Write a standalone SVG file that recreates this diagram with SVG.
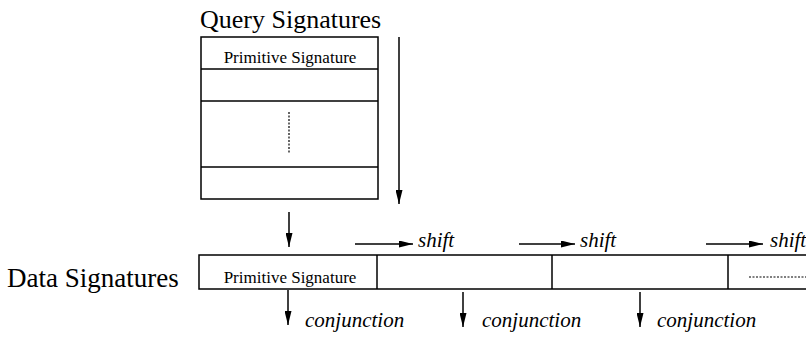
<svg xmlns="http://www.w3.org/2000/svg" width="806" height="338" viewBox="0 0 806 338">
  <style>
    .box { fill: none; stroke: #000; stroke-width: 1.5; }
    .ln { stroke: #000; stroke-width: 1.5; fill: none; }
    .dash { stroke: #000; stroke-width: 1.2; stroke-dasharray: 2 1.5; fill: none; }
    text { font-family: "Liberation Serif", "DejaVu Serif", "Times New Roman", serif; fill: #000; }
    .title { font-size: 26px; }
    .cell { font-size: 17px; text-anchor: middle; }
    .lbl { font-size: 21px; font-style: italic; }
  </style>
  <defs>
    <marker id="arr" viewBox="0 0 14 7" refX="14" refY="3.5" markerWidth="14" markerHeight="7" markerUnits="userSpaceOnUse" orient="auto">
      <path d="M0,0 L14,3.5 L0,7 Z" fill="#000"/>
    </marker>
  </defs>

  <!-- query signature stack -->
  <g id="query">
    <text class="title" x="200" y="28">Query Signatures</text>
    <rect class="box" x="201" y="37" width="177" height="162"/>
    <line class="ln" x1="201" y1="69" x2="378" y2="69"/>
    <line class="ln" x1="201" y1="101" x2="378" y2="101"/>
    <line class="ln" x1="201" y1="167" x2="378" y2="167"/>
    <text class="cell" x="290" y="63">Primitive Signature</text>
    <line class="dash" x1="289" y1="112" x2="289" y2="154"/>
  </g>

  <!-- data signature row -->
  <g id="data">
    <text class="title" x="7" y="287" style="font-size:27px">Data Signatures</text>
    <rect class="box" x="199" y="255" width="620" height="34"/>
    <line class="ln" x1="377" y1="255" x2="377" y2="289"/>
    <line class="ln" x1="552" y1="255" x2="552" y2="289"/>
    <line class="ln" x1="728" y1="255" x2="728" y2="289"/>
    <text class="cell" x="290" y="283">Primitive Signature</text>
    <line class="dash" x1="749" y1="277" x2="806" y2="277"/>
  </g>

  <!-- labels -->
  <g id="labels">
    <text class="lbl" x="418" y="247">shift</text>
    <text class="lbl" x="580" y="247">shift</text>
    <text class="lbl" x="770" y="247">shift</text>
    <text class="lbl" x="305" y="327">conjunction</text>
    <text class="lbl" x="482" y="327">conjunction</text>
    <text class="lbl" x="657" y="327">conjunction</text>
  </g>

  <!-- connectors -->
  <g id="connectors">
    <line class="ln" x1="399" y1="37" x2="399" y2="204" marker-end="url(#arr)"/>
    <line class="ln" x1="289" y1="212" x2="289" y2="247" marker-end="url(#arr)"/>
    <line class="ln" x1="355" y1="244" x2="413" y2="244" marker-end="url(#arr)"/>
    <line class="ln" x1="519" y1="244" x2="575" y2="244" marker-end="url(#arr)"/>
    <line class="ln" x1="706" y1="244" x2="763" y2="244" marker-end="url(#arr)"/>
    <line class="ln" x1="288" y1="290" x2="288" y2="325" marker-end="url(#arr)"/>
    <line class="ln" x1="463" y1="292" x2="463" y2="327" marker-end="url(#arr)"/>
    <line class="ln" x1="640" y1="292" x2="640" y2="327" marker-end="url(#arr)"/>
  </g>
</svg>
